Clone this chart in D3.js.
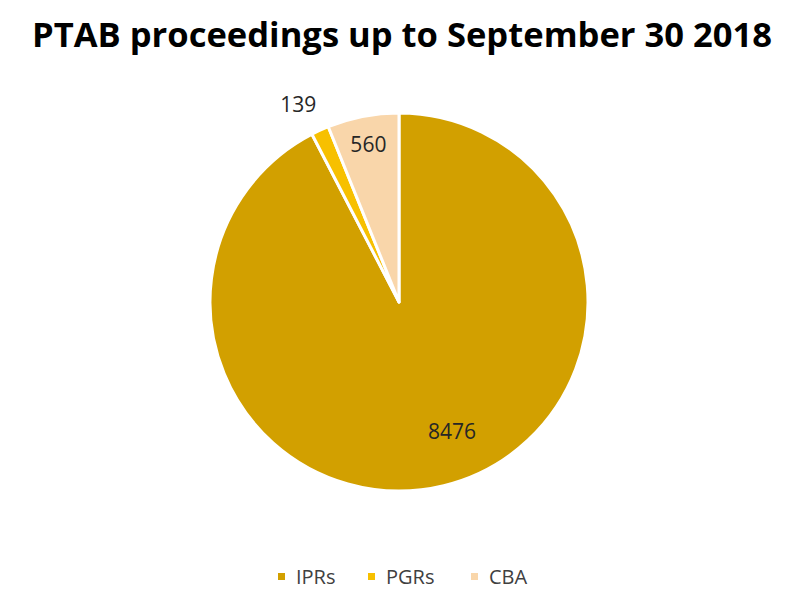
<!DOCTYPE html>
<html>
<head>
<meta charset="utf-8">
<script src="https://cdn.jsdelivr.net/npm/d3@7"></script>
<style>
  body { margin: 0; background: #fff; }
  svg { display: block; }
</style>
</head>
<body>
<div id="chart"></div>
<script>
// data
var categories = ['IPRs', 'PGRs', 'CBA'];
var values = [8476, 139, 560];
var colours = ['#D2A000', '#F7C000', '#F9D6AA'];
var titleText = 'PTAB proceedings up to September 30 2018';

var width = 800, height = 616;
var cx = 399, cy = 302, radius = 189;
var labelFont = "'Open Sans', sans-serif";

var svg = d3.select('#chart').append('svg')
  .attr('width', width)
  .attr('height', height);

// title
svg.append('text')
  .attr('x', 402)
  .attr('y', 47)
  .attr('text-anchor', 'middle')
  .attr('textLength', 740)
  .attr('lengthAdjust', 'spacingAndGlyphs')
  .style('font-family', "'Open Sans', sans-serif")
  .style('font-weight', 'bold')
  .style('font-size', '34px')
  .style('fill', '#000')
  .text(titleText);

var dataset = categories.map(function(c, i) { return {type: c, value: values[i]}; });

var color = d3.scaleOrdinal().domain(categories).range(colours);

var pie = d3.pie()
  .value(function(d) { return d.value; })
  .sort(null);

var arc = d3.arc().innerRadius(0).outerRadius(radius);

var g = svg.append('g')
  .attr('transform', 'translate(' + cx + ',' + cy + ')');

var arcs = pie(dataset);

g.selectAll('path')
  .data(arcs)
  .enter()
  .append('path')
  .attr('d', arc)
  .attr('fill', function(d) { return color(d.data.type); })
  .attr('stroke', '#fff')
  .attr('stroke-width', 3)
  .attr('stroke-linejoin', 'round');

// labels: big slices inside, small one outside
var inner = d3.arc().innerRadius(radius * 0.85).outerRadius(radius * 0.85);
var outer = d3.arc().innerRadius(radius * 1.15).outerRadius(radius * 1.15);
var labelArc = {'IPRs': inner, 'PGRs': outer, 'CBA': inner};

g.selectAll('text.val')
  .data(arcs)
  .enter()
  .append('text')
  .attr('class', 'val')
  .attr('transform', function(d) {
    var p = labelArc[d.data.type].centroid(d);
    if (d.data.type === 'IPRs') p = [53, 129];
    if (d.data.type === 'PGRs') p[0] -= 10;
    return 'translate(' + p + ')';
  })
  .attr('dy', '0.36em')
  .attr('text-anchor', 'middle')
  .style('font-family', labelFont)
  .style('font-size', '21px')
  .style('fill', '#262626')
  .text(function(d) { return d.data.value; });

// legend
var legendX = [278, 368, 471];
var legend = svg.selectAll('.legend')
  .data(categories)
  .enter()
  .append('g')
  .attr('class', 'legend')
  .attr('transform', function(d, i) { return 'translate(' + legendX[i] + ',577)'; });

legend.append('rect')
  .attr('x', 0)
  .attr('y', -4)
  .attr('width', 7)
  .attr('height', 7)
  .style('fill', color);

legend.append('text')
  .attr('x', 18)
  .attr('y', 0)
  .attr('dy', '0.36em')
  .style('font-family', labelFont)
  .style('font-size', '20px')
  .style('fill', '#404040')
  .text(function(d) { return d; });
</script>
</body>
</html>
